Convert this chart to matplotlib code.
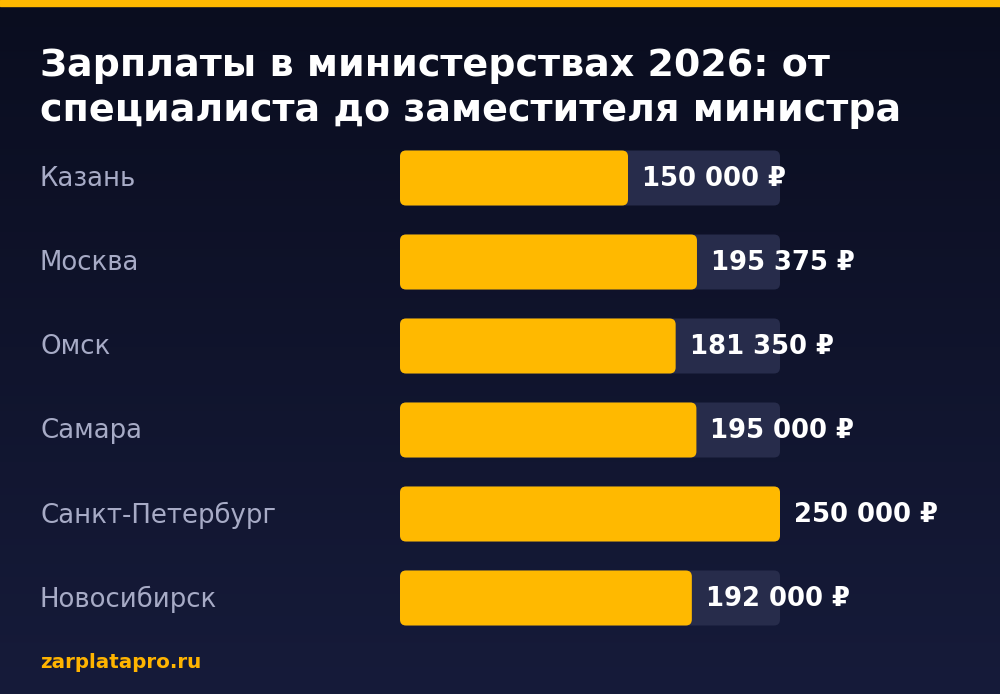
import matplotlib
matplotlib.use("Agg")
import matplotlib.pyplot as plt
import numpy as np
from matplotlib.patches import FancyBboxPatch

cities = ["Казань", "Москва", "Омск", "Самара", "Санкт-Петербург", "Новосибирск"]
salaries = [150000, 195375, 181350, 195000, 250000, 192000]
value_labels = ["150 000 ₽", "195 375 ₽", "181 350 ₽", "195 000 ₽", "250 000 ₽", "192 000 ₽"]
title_lines = ["Зарплаты в министерствах 2026: от", "специалиста до заместителя министра"]
footer = "zarplatapro.ru"

W, H = 1000, 694
fig = plt.figure(figsize=(W / 100, H / 100), dpi=100)

# background gradient
bg = fig.add_axes([0, 0, 1, 1], zorder=0)
grad = np.linspace(0, 1, 256).reshape(-1, 1)
top = np.array([0x0a, 0x0d, 0x1f]) / 255
bot = np.array([0x16, 0x1b, 0x3a]) / 255
img = top[None, None, :] * (1 - grad[:, :, None]) + bot[None, None, :] * grad[:, :, None]
bg.imshow(img, aspect="auto", extent=[0, 1, 0, 1], origin="upper")
bg.axhspan(1 - 6 / H, 1, color="#ffb800")
bg.set_xlim(0, 1)
bg.set_ylim(0, 1)
bg.axis("off")

# bars axes
left_px, right_px = 400, 780
top_px, bot_px = 136, 640
ax = fig.add_axes([left_px / W, 1 - bot_px / H, (right_px - left_px) / W, (bot_px - top_px) / H], zorder=1)
ax.patch.set_alpha(0)
maxv = max(salaries)
ax.set_xlim(0, maxv)
n = len(cities)
ax.set_ylim(n - 0.5, -0.5)
ax.axis("off")

x_per_px = maxv / (right_px - left_px)
y_per_px = n / (bot_px - top_px)
aspect = y_per_px / x_per_px
bh = 55 * y_per_px
r = 6 * x_per_px

for i, (c, v, lab) in enumerate(zip(cities, salaries, value_labels)):
    track = FancyBboxPatch((0, i - bh / 2), maxv, bh,
                           boxstyle=f"round,pad=0,rounding_size={r}",
                           mutation_aspect=aspect, fc="#272c4b", ec="none", clip_on=False)
    ax.add_patch(track)
    bar = FancyBboxPatch((0, i - bh / 2), v, bh,
                         boxstyle=f"round,pad=0,rounding_size={r}",
                         mutation_aspect=aspect, fc="#ffb900", ec="none", clip_on=False)
    ax.add_patch(bar)
    ax.text(v + 14 * x_per_px, i + 1.5 * y_per_px, lab, color="white", fontsize=18.6,
            fontweight="bold", va="center", ha="left", clip_on=False)
    fig.text(40 / W, 1 - (179 + 84 * i) / H, c, color="#a7abc6", fontsize=18.7,
             va="center", ha="left")

for k, line in enumerate(title_lines):
    fig.text(40 / W, 1 - (76 + 45 * k) / H, line, color="white", fontsize=27.4,
             fontweight="bold", va="baseline", ha="left")
fig.text(40 / W, 1 - 663 / H, footer, color="#ffb400", fontsize=14.3, fontweight="bold",
         va="center", ha="left")

fig.savefig("out.png", dpi=100)
